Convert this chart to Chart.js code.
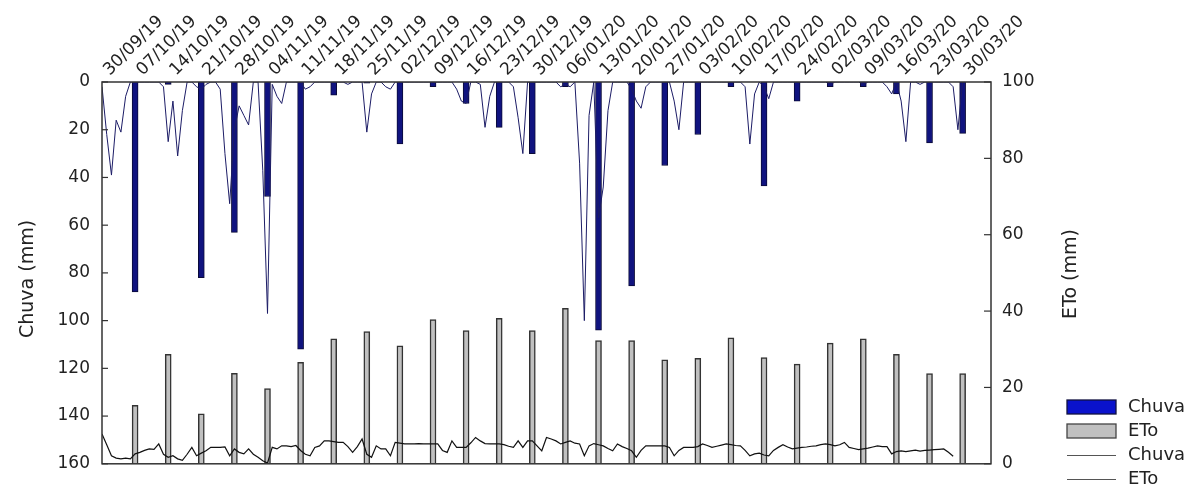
<!DOCTYPE html>
<html>

<head>
    <style>
        body {
            margin: 0;
            background: #fff;
        }

        canvas {
            display: block;
        }
    </style>
    <script src="https://cdn.jsdelivr.net/npm/chart.js"></script>
</head>

<body>
    <canvas id="grafico" width="1196" height="486"></canvas>

    <script>
        // rotulos semanais do eixo x (topo)
        const rotulosSemana = ['30/09/19', '07/10/19', '14/10/19', '21/10/19', '28/10/19', '04/11/19', '11/11/19',
            '18/11/19', '25/11/19', '02/12/19', '09/12/19', '16/12/19', '23/12/19', '30/12/19', '06/01/20',
            '13/01/20', '20/01/20', '27/01/20', '03/02/20', '10/02/20', '17/02/20', '24/02/20', '02/03/20',
            '09/03/20', '16/03/20', '23/03/20', '30/03/20'];
        // dias desde 30/09/19 para cada rotulo
        const diasRotulo = [0, 7, 14, 21, 28, 35, 42, 49, 56, 63, 70, 77, 84, 91, 98, 105, 112, 119, 126, 133,
            140, 147, 154, 161, 168, 175, 182];
        // dias das barras semanais
        const diasBarra = [7, 14, 21, 28, 35, 42, 49, 56, 63, 70, 77, 84, 91, 98, 105, 112, 119, 126, 133, 140,
            147, 154, 161, 168, 175, 182];

        const chuvaSemanal = [88, 1, 82, 63, 48, 112, 5.5, 0.5, 26, 2, 9, 19, 30, 2, 104, 85.5, 35, 22, 2, 43.5,
            8, 2, 2, 5, 25.5, 21.5];
        const etoSemanal = [15.3, 28.7, 13.1, 23.7, 19.7, 26.6, 32.7, 34.6, 30.9, 37.8, 34.9, 38.1, 34.9, 40.7,
            32.3, 32.3, 27.2, 27.6, 33.0, 27.8, 26.1, 31.6, 32.7, 28.7, 23.6, 23.6];

        // valores diarios (indice = dia desde 30/09/19)
        const chuvaDiaria = [
            2, 22, 39, 16, 21, 6, 0, 0, 0, 0,
            0, 0, 0, 2, 25, 8, 31, 12, 0, 0,
            2, 3, 1, 0, 0, 3, 30, 51, 20, 10,
            14, 18, 0, 0, 37, 97, 1, 6, 9, 0,
            0, 0, 0, 3, 2, 0, 0, 0, 0, 0,
            0, 0, 1, 0, 0, 0, 21, 5, 0, 0,
            2, 3, 0, 0, 0, 0, 0, 0, 0, 0,
            0, 0, 0, 0, 0, 3, 8, 9, 0, 0,
            1, 19, 6, 0, 0, 0, 0, 2, 15, 30,
            0, 0, 0, 0, 0, 0, 0, 2, 1, 2,
            0, 34, 100, 14, 0, 57, 44, 12, 0, 0,
            0, 0, 3, 8, 11, 2, 0, 0, 0, 0,
            0, 8, 20, 0, 0, 0, 0, 0, 0, 0,
            0, 0, 0, 0, 0, 0, 2, 26, 5, 0,
            2, 7, 0, 0, 0, 0, 0, 0, 0, 0,
            0, 0, 0, 0, 1, 0, 0, 0, 0, 0,
            0, 1, 0, 0, 0, 0, 2, 5, 0, 8,
            25, 0, 0, 1, 0, 0, 0, 0, 0, 0,
            2, 20, 0];
        const etoDiaria = [
            7.8, 5.0, 2.1, 1.5, 1.3, 1.5, 1.3, 2.6, 3.0, 3.5,
            3.9, 3.8, 5.2, 2.5, 1.7, 2.1, 1.3, 0.9, 2.5, 4.3,
            2.1, 2.8, 3.4, 4.3, 4.3, 4.3, 4.4, 2.1, 3.9, 3.0,
            2.6, 3.9, 2.5, 1.7, 0.8, 0.2, 4.3, 3.9, 4.7, 4.7,
            4.5, 4.8, 3.5, 2.5, 2.1, 4.3, 4.7, 6.0, 6.0, 5.8,
            5.6, 5.6, 4.5, 3.0, 4.5, 6.5, 2.5, 1.7, 4.7, 3.9,
            3.9, 2.1, 5.6, 5.4, 5.2, 5.2, 5.2, 5.3, 5.2, 5.2,
            5.2, 5.2, 3.5, 3.0, 6.0, 4.3, 4.3, 4.3, 5.5, 6.9,
            6.0, 5.3, 5.2, 5.2, 5.2, 5.0, 4.6, 4.3, 6.0, 4.3,
            6.0, 6.0, 4.7, 3.4, 6.9, 6.5, 6.0, 5.2, 5.6, 6.0,
            5.4, 5.2, 2.1, 4.7, 5.3, 5.0, 4.7, 4.0, 3.4, 5.2,
            4.5, 4.0, 3.4, 1.7, 3.5, 4.7, 4.7, 4.7, 4.7, 4.7,
            4.3, 2.1, 3.5, 4.3, 4.3, 4.3, 4.5, 5.2, 4.8, 4.3,
            4.6, 4.9, 5.2, 5.0, 4.8, 4.7, 3.5, 2.1, 2.6, 2.8,
            2.3, 2.1, 3.5, 4.3, 5.0, 4.4, 3.9, 4.1, 4.3, 4.4,
            4.6, 4.7, 5.0, 5.2, 5.0, 4.7, 5.0, 5.6, 4.3, 4.0,
            3.7, 3.9, 4.1, 4.4, 4.7, 4.5, 4.5, 2.6, 3.2, 3.4,
            3.2, 3.4, 3.6, 3.3, 3.5, 3.6, 3.7, 3.8, 3.9, 3.0,
            2.0];

        const fonte = 'DejaVu Sans';
        const corTexto = '#222';

        // moldura, ticks internos, titulos dos eixos e legenda
        const extras = {
            id: 'extras',
            afterDraw(chart) {
                const { ctx, chartArea: a, scales } = chart;
                ctx.save();
                ctx.strokeStyle = '#333';
                ctx.lineWidth = 1.5;
                ctx.strokeRect(a.left, a.top, a.right - a.left, a.bottom - a.top);

                ctx.lineWidth = 1.2;
                scales.yL.ticks.forEach(t => {
                    const y = scales.yL.getPixelForValue(t.value);
                    ctx.beginPath(); ctx.moveTo(a.left, y); ctx.lineTo(a.left + 6, y); ctx.stroke();
                });
                scales.yR.ticks.forEach(t => {
                    const y = scales.yR.getPixelForValue(t.value);
                    ctx.beginPath(); ctx.moveTo(a.right, y); ctx.lineTo(a.right - 7, y); ctx.stroke();
                });

                ctx.fillStyle = corTexto;
                ctx.font = '19px "' + fonte + '"';
                ctx.textAlign = 'center';
                ctx.textBaseline = 'middle';
                ctx.save();
                ctx.translate(28, 279);
                ctx.rotate(-Math.PI / 2);
                ctx.fillText('Chuva (mm)', 0, 0);
                ctx.restore();
                ctx.save();
                ctx.translate(1071, 274);
                ctx.rotate(-Math.PI / 2);
                ctx.fillText('ETo (mm)', 0, 0);
                ctx.restore();

                // legenda
                const lx = 1067, lw = 49, tx = 1128;
                ctx.font = '18px "' + fonte + '"';
                ctx.textAlign = 'left';
                ctx.lineWidth = 1.3;
                ctx.fillStyle = '#0a12cc';
                ctx.fillRect(lx, 400, lw, 14);
                ctx.strokeStyle = '#121240';
                ctx.strokeRect(lx, 400, lw, 14);
                ctx.fillStyle = '#c0c0c0';
                ctx.fillRect(lx, 424, lw, 14);
                ctx.strokeStyle = '#444';
                ctx.strokeRect(lx, 424, lw, 14);
                ctx.strokeStyle = '#555';
                ctx.lineWidth = 1;
                ctx.beginPath(); ctx.moveTo(lx, 455.5); ctx.lineTo(lx + lw, 455.5); ctx.stroke();
                ctx.beginPath(); ctx.moveTo(lx, 479.5); ctx.lineTo(lx + lw, 479.5); ctx.stroke();
                ctx.fillStyle = corTexto;
                ctx.fillText('Chuva', tx, 407);
                ctx.fillText('ETo', tx, 431);
                ctx.fillText('Chuva', tx, 455);
                ctx.fillText('ETo', tx, 479);
                ctx.restore();
            }
        };

        const config = {
            type: 'bar',
            data: {
                datasets: [{
                    type: 'line',
                    label: 'Chuva',
                    data: chuvaDiaria.map((v, i) => ({ x: i, y: v })),
                    yAxisID: 'yL',
                    borderColor: '#1c1c66',
                    borderWidth: 1,
                    pointRadius: 0,
                    tension: 0,
                    order: 0
                }, {
                    type: 'line',
                    label: 'ETo',
                    data: etoDiaria.map((v, i) => ({ x: i, y: v })),
                    yAxisID: 'yR',
                    borderColor: '#111',
                    borderWidth: 1.2,
                    pointRadius: 0,
                    tension: 0,
                    order: 0
                }, {
                    label: 'Chuva',
                    data: diasBarra.map((d, i) => ({ x: d, y: chuvaSemanal[i] })),
                    yAxisID: 'yL',
                    backgroundColor: '#10137f',
                    borderColor: '#0b0b38',
                    borderWidth: 1,
                    barThickness: 6,
                    grouped: false,
                    order: 1
                }, {
                    label: 'ETo',
                    data: diasBarra.map((d, i) => ({ x: d, y: etoSemanal[i] })),
                    yAxisID: 'yR',
                    backgroundColor: '#c0c0c0',
                    borderColor: '#333',
                    borderWidth: 1.5,
                    barThickness: 6,
                    grouped: false,
                    order: 1
                }]
            },
            options: {
                responsive: false,
                animation: false,
                devicePixelRatio: 1,
                layout: { padding: { left: 0, right: 0, top: 0, bottom: 18 } },
                plugins: { legend: { display: false }, tooltip: { enabled: false } },
                scales: {
                    x: {
                        type: 'linear',
                        position: 'top',
                        min: 0,
                        max: 188,
                        offset: false,
                        grid: { display: false, drawTicks: false },
                        border: { display: false },
                        afterBuildTicks: s => { s.ticks = diasRotulo.map(v => ({ value: v })); },
                        afterFit: s => { s.height = 82; },
                        ticks: {
                            autoSkip: false,
                            minRotation: 45,
                            maxRotation: 45,
                            padding: 2,
                            labelOffset: 19,
                            color: corTexto,
                            font: { family: fonte, size: 17 },
                            callback: (v, i) => rotulosSemana[i]
                        }
                    },
                    yL: {
                        type: 'linear',
                        position: 'left',
                        reverse: true,
                        min: 0,
                        max: 160,
                        grid: { display: false, drawTicks: false },
                        border: { display: false },
                        afterFit: s => { s.width = 102; },
                        ticks: {
                            stepSize: 20,
                            padding: 12,
                            color: corTexto,
                            font: { family: fonte, size: 17 }
                        }
                    },
                    yR: {
                        type: 'linear',
                        position: 'right',
                        min: 0,
                        max: 100,
                        grid: { display: false, drawTicks: false },
                        border: { display: false },
                        afterFit: s => { s.width = 205; },
                        ticks: {
                            stepSize: 20,
                            padding: 11,
                            color: corTexto,
                            font: { family: fonte, size: 17 }
                        }
                    }
                }
            },
            plugins: [extras]
        };

        new Chart(document.getElementById('grafico'), config);
    </script>
</body>

</html>
